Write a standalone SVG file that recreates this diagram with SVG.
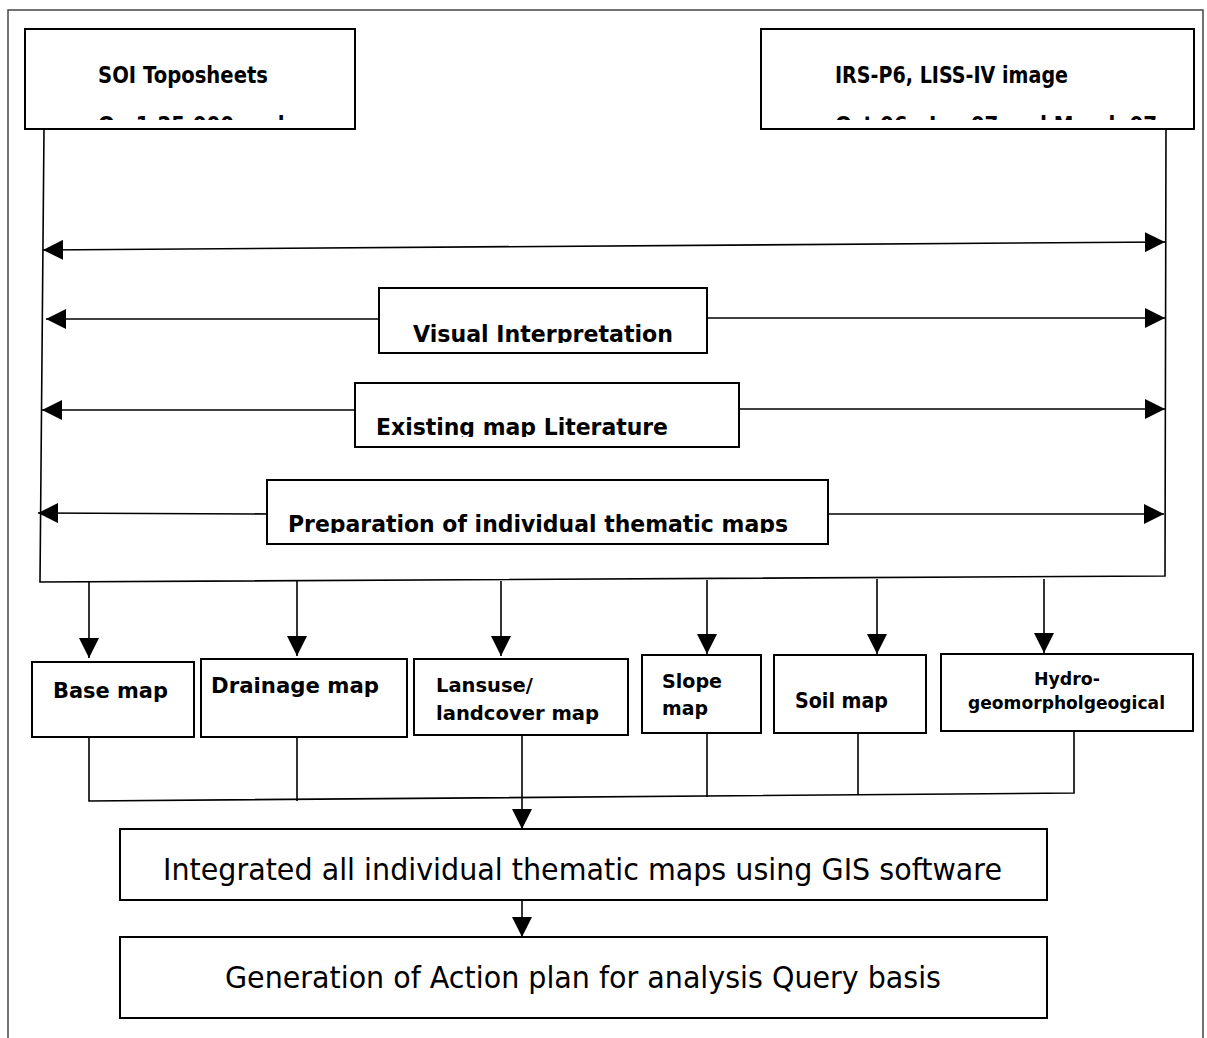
<svg xmlns="http://www.w3.org/2000/svg" width="1207" height="1038" viewBox="0 0 1207 1038">
<style>
.frame{fill:none;stroke:#444;stroke-width:1.5}
.box{fill:#fff;stroke:#000;stroke-width:2}
.ln{fill:none;stroke:#000;stroke-width:1.6}
.b{font-family:"DejaVu Sans","Liberation Sans",sans-serif;font-weight:bold;fill:#000}
.r{font-family:"DejaVu Sans","Liberation Sans",sans-serif;fill:#000}
</style>
<defs>
<marker id="ah" markerUnits="userSpaceOnUse" markerWidth="20" markerHeight="20" viewBox="0 0 20 20" refX="20" refY="10" orient="auto-start-reverse"><path d="M0,0 L20,10 L0,20 z" fill="#000"/></marker>
<clipPath id="cSoi"><rect x="26" y="30" width="328" height="90"/></clipPath>
<clipPath id="cIrs"><rect x="762" y="30" width="431" height="90"/></clipPath>
<clipPath id="cVis"><rect x="380" y="289" width="326" height="54"/></clipPath>
<clipPath id="cExi"><rect x="356" y="384" width="382" height="53"/></clipPath>
<clipPath id="cPre"><rect x="268" y="481" width="559" height="52"/></clipPath>
</defs>
<path class="frame" d="M8,1038 V10 H1203 V1038"/>
<g id="connectors">
<path class="ln" d="M44,129 L40,582 L1165,576 L1166,129"/>
<path class="ln" d="M43,250 L1165,242" marker-start="url(#ah)" marker-end="url(#ah)"/>
<path class="ln" d="M379,319 L46,319" marker-end="url(#ah)"/>
<path class="ln" d="M707,318 L1165,318" marker-end="url(#ah)"/>
<path class="ln" d="M355,410 L42,410" marker-end="url(#ah)"/>
<path class="ln" d="M739,409 L1165,409" marker-end="url(#ah)"/>
<path class="ln" d="M272,514 L38,513" marker-end="url(#ah)"/>
<path class="ln" d="M828,514 L1164,514" marker-end="url(#ah)"/>
<path class="ln" d="M89,582 V658" marker-end="url(#ah)"/>
<path class="ln" d="M297,581 V656" marker-end="url(#ah)"/>
<path class="ln" d="M501,581 V656" marker-end="url(#ah)"/>
<path class="ln" d="M707,580 V654" marker-end="url(#ah)"/>
<path class="ln" d="M877,579 V654" marker-end="url(#ah)"/>
<path class="ln" d="M1044,579 V653" marker-end="url(#ah)"/>
<path class="ln" d="M89,737 V801 L1074,793 V728"/>
<path class="ln" d="M297,737 V801"/>
<path class="ln" d="M707,733 V797"/>
<path class="ln" d="M858,733 V795"/>
<path class="ln" d="M522,731 V829" marker-end="url(#ah)"/>
<path class="ln" d="M522,900 V937" marker-end="url(#ah)"/>
</g>
<g id="soi">
<rect class="box" x="25" y="29" width="330" height="100"/>
<g clip-path="url(#cSoi)">
<text class="b" x="98" y="83" font-size="23" textLength="170" lengthAdjust="spacingAndGlyphs">SOI Toposheets</text>
<text class="b" x="98" y="133" font-size="23" textLength="200" lengthAdjust="spacingAndGlyphs">On 1:25,000 scale</text>
</g>
</g>
<g id="irs">
<rect class="box" x="761" y="29" width="433" height="100"/>
<g clip-path="url(#cIrs)">
<text class="b" x="835" y="83" font-size="23" textLength="233" lengthAdjust="spacingAndGlyphs">IRS-P6, LISS-IV image</text>
<text class="b" x="835" y="133" font-size="23" textLength="322" lengthAdjust="spacingAndGlyphs">Oct 06 , Jan 07 and March 07</text>
</g>
</g>
<g id="visual">
<rect class="box" x="379" y="288" width="328" height="65"/>
<g clip-path="url(#cVis)">
<text class="b" x="413" y="342" font-size="23" textLength="260" lengthAdjust="spacingAndGlyphs">Visual Interpretation</text>
</g>
</g>
<g id="existing">
<rect class="box" x="355" y="383" width="384" height="64"/>
<g clip-path="url(#cExi)">
<text class="b" x="376" y="435" font-size="23" textLength="292" lengthAdjust="spacingAndGlyphs">Existing map Literature</text>
</g>
</g>
<g id="preparation">
<rect class="box" x="267" y="480" width="561" height="64"/>
<g clip-path="url(#cPre)">
<text class="b" x="288" y="532" font-size="23" textLength="500" lengthAdjust="spacingAndGlyphs">Preparation of individual thematic maps</text>
</g>
</g>
<g id="base">
<rect class="box" x="32" y="662" width="162" height="75"/>
<text class="b" x="53" y="698" font-size="22" textLength="115" lengthAdjust="spacingAndGlyphs">Base map</text>
</g>
<g id="drainage">
<rect class="box" x="201" y="659" width="206" height="78"/>
<text class="b" x="211" y="693" font-size="22" textLength="168" lengthAdjust="spacingAndGlyphs">Drainage map</text>
</g>
<g id="landuse">
<rect class="box" x="414" y="659" width="214" height="76"/>
<text class="b" x="436" y="692" font-size="20" textLength="97" lengthAdjust="spacingAndGlyphs">Lansuse/</text>
<text class="b" x="436" y="720" font-size="20" textLength="163" lengthAdjust="spacingAndGlyphs">landcover map</text>
</g>
<g id="slope">
<rect class="box" x="642" y="655" width="119" height="78"/>
<text class="b" x="662" y="688" font-size="20" textLength="60" lengthAdjust="spacingAndGlyphs">Slope</text>
<text class="b" x="662" y="715" font-size="20" textLength="46" lengthAdjust="spacingAndGlyphs">map</text>
</g>
<g id="soil">
<rect class="box" x="774" y="655" width="152" height="78"/>
<text class="b" x="795" y="708" font-size="21" textLength="93" lengthAdjust="spacingAndGlyphs">Soil map</text>
</g>
<g id="hydro">
<rect class="box" x="941" y="654" width="252" height="77"/>
<text class="b" x="1034" y="685" font-size="17" textLength="66" lengthAdjust="spacingAndGlyphs">Hydro-</text>
<text class="b" x="968" y="709" font-size="17" textLength="197" lengthAdjust="spacingAndGlyphs">geomorpholgeogical</text>
</g>
<g id="integrated">
<rect class="box" x="120" y="829" width="927" height="71"/>
<text class="r" x="163" y="880" font-size="31" textLength="839" lengthAdjust="spacingAndGlyphs">Integrated all individual thematic maps using GIS software</text>
</g>
<g id="generation">
<rect class="box" x="120" y="937" width="927" height="81"/>
<text class="r" x="225" y="988" font-size="31" textLength="716" lengthAdjust="spacingAndGlyphs">Generation of Action plan for analysis Query basis</text>
</g>
</svg>
